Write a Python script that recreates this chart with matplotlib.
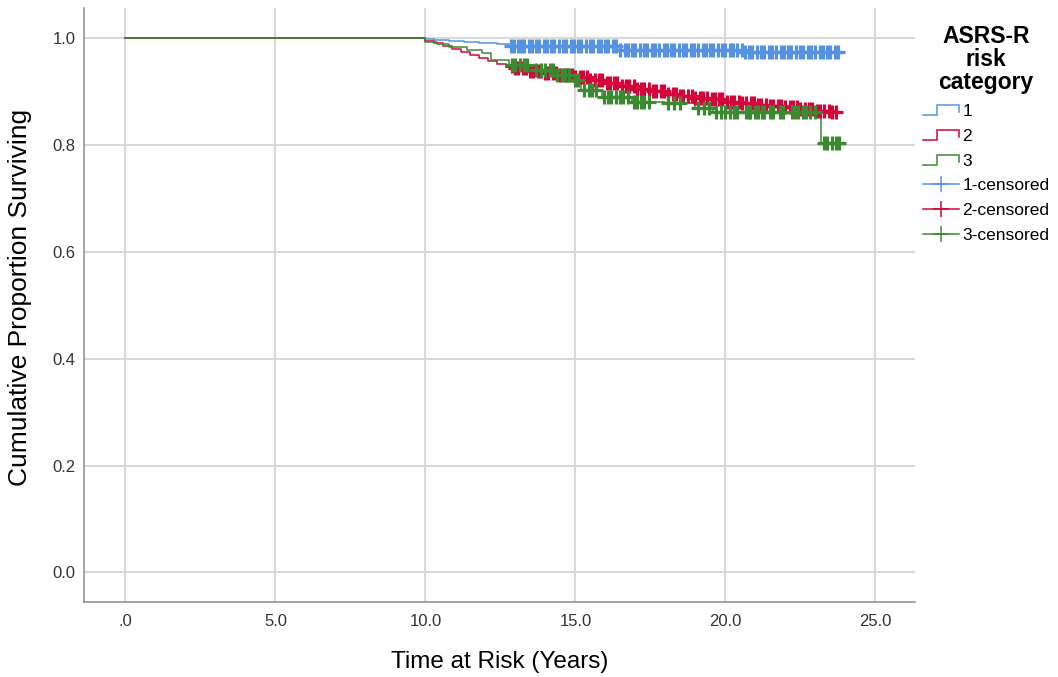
import numpy as np
import matplotlib
matplotlib.use("Agg")
import matplotlib.pyplot as plt
from matplotlib.lines import Line2D
from matplotlib.legend_handler import HandlerBase

plt.rcParams['font.family'] = ['Liberation Sans', 'DejaVu Sans']

# Kaplan-Meier step curves (time in years, cumulative proportion surviving)
t1 = [0.0, 10.0, 10.3, 10.8, 11.3, 11.8, 12.4, 12.8, 16.4, 20.6, 23.9]
s1 = [1.0, 0.998, 0.996, 0.994, 0.992, 0.990, 0.988, 0.985, 0.978, 0.974, 0.974]

t2 = [0.0, 10.0, 10.3, 10.6, 10.9, 11.2, 11.5, 11.8, 12.1, 12.4, 12.7, 13.0,
      13.5, 14.0, 14.5, 15.0, 15.5, 16.0, 16.5, 17.0, 17.5, 18.0, 18.5, 19.0,
      19.5, 20.0, 20.5, 21.0, 21.5, 22.0, 22.5, 23.0, 23.5, 23.9]
s2 = [1.0, 0.995, 0.990, 0.985, 0.980, 0.974, 0.968, 0.962, 0.957, 0.952, 0.948, 0.944,
      0.939, 0.934, 0.930, 0.926, 0.921, 0.916, 0.911, 0.905, 0.900, 0.895, 0.891, 0.888,
      0.885, 0.881, 0.878, 0.875, 0.872, 0.870, 0.867, 0.864, 0.862, 0.862]

t3 = [0.0, 10.0, 10.4, 10.8, 11.4, 11.9, 12.2, 12.8, 13.6, 14.3, 14.9, 15.2,
      15.9, 16.9, 18.0, 19.0, 19.6, 23.17, 23.9]
s3 = [1.0, 0.993, 0.988, 0.983, 0.978, 0.971, 0.958, 0.950, 0.940, 0.931, 0.922, 0.903,
      0.889, 0.881, 0.878, 0.869, 0.861, 0.804, 0.804]

# censoring times
c1 = [12.85, 12.95, 13.1, 13.2, 13.3, 13.45, 13.55, 13.7, 13.8, 13.95, 14.05, 14.2, 14.3,
      14.45, 14.6, 14.7, 14.85, 14.95, 15.1, 15.2, 15.35, 15.5, 15.6, 15.75, 15.85, 16.0,
      16.1, 16.25, 16.35, 16.5, 16.65, 16.75, 16.9, 17.0, 17.15, 17.3, 17.4, 17.55, 17.65,
      17.8, 17.95, 18.05, 18.2, 18.3, 18.45, 18.6, 18.7, 18.85, 18.95, 19.1, 19.25, 19.35,
      19.5, 19.6, 19.75, 19.9, 20.0, 20.15, 20.25, 20.4, 20.55, 20.65, 20.8, 20.9, 21.05,
      21.2, 21.3, 21.45, 21.55, 21.7, 21.85, 21.95, 22.1, 22.2, 22.35, 22.5, 22.6, 22.75,
      22.85, 23.0, 23.15, 23.25, 23.4, 23.5, 23.65, 23.75]
c2 = [12.9, 13.0, 13.1, 13.25, 13.35, 13.5, 13.6, 13.75, 13.85, 14.0, 14.1, 14.25, 14.35,
      14.5, 14.65, 14.75, 14.9, 15.0, 15.15, 15.25, 15.4, 15.5, 15.65, 15.8, 15.9, 16.05,
      16.15, 16.3, 16.4, 16.55, 16.7, 16.8, 16.95, 17.05, 17.2, 17.3, 17.45, 17.6, 17.7,
      17.85, 17.95, 18.1, 18.25, 18.35, 18.5, 18.6, 18.75, 18.9, 19.0, 19.15, 19.25, 19.4,
      19.55, 19.65, 19.8, 19.9, 20.05, 20.2, 20.3, 20.45, 20.55, 20.7, 20.85, 20.95, 21.1,
      21.2, 21.35, 21.5, 21.6, 21.75, 21.85, 22.0, 22.15, 22.25, 22.4, 22.5, 22.65, 22.8,
      22.9, 23.05, 23.15, 23.3, 23.45, 23.55, 23.7]
c3 = [12.9, 13.0, 13.15, 13.3, 13.4, 13.7, 13.85, 14.0, 14.15, 14.25, 14.4, 14.55, 14.65,
      14.8, 15.0, 15.1, 15.3, 15.45, 15.55, 15.7, 15.95, 16.1, 16.2, 16.35, 16.5, 16.6,
      16.75, 16.95, 17.05, 17.2, 17.3, 17.45, 18.1, 18.3, 18.5, 19.1, 19.3, 19.45, 19.7,
      19.85, 20.0, 20.15, 20.3, 20.4, 20.67, 20.77, 20.83, 21.0, 21.1, 21.23, 21.27, 21.5,
      21.57, 21.83, 21.93, 22.23, 22.33, 22.43, 22.57, 22.67, 22.83, 23.0, 23.28, 23.4,
      23.55, 23.68, 23.8]

groups = ['1', '2', '3']
colors = ['#5592e2', '#d4053b', '#3b8a31']

xticks = [0, 5, 10, 15, 20, 25]
xticklabels = ['.0', '5.0', '10.0', '15.0', '20.0', '25.0']
yticks = [0.0, 0.2, 0.4, 0.6, 0.8, 1.0]
yticklabels = ['0.0', '0.2', '0.4', '0.6', '0.8', '1.0']


def surv_at(times, surv, c):
    idx = np.searchsorted(np.array(times), np.array(c), side='right') - 1
    return np.array(surv)[idx]


class StepHandler(HandlerBase):
    def create_artists(self, legend, orig_handle, xdescent, ydescent,
                       width, height, fontsize, trans):
        x0, y0 = -xdescent, -ydescent
        xs = [x0, x0 + 0.4 * width, x0 + 0.4 * width, x0 + width, x0 + width]
        ys = [y0 + 0.05 * height, y0 + 0.05 * height, y0 + 0.9 * height,
              y0 + 0.9 * height, y0 + 0.3 * height]
        ln = Line2D(xs, ys, color=orig_handle.get_color(), lw=1.1,
                    solid_joinstyle='miter', transform=trans)
        return [ln]


fig = plt.figure(figsize=(10.58, 6.77), dpi=100)
ax = fig.add_axes([84 / 1058, 75 / 677, 831 / 1058, 594 / 677])

curves = [(t1, s1, c1), (t2, s2, c2), (t3, s3, c3)]
for (t, s, c), col in zip(curves, colors):
    ax.step(t, s, where='post', color=col, lw=1.1, zorder=3)
for (t, s, c), col in zip(curves, colors):
    ax.plot(c, surv_at(t, s, c), '+', color=col, ms=9.5, mew=2.3, zorder=4)

ax.set_xlim(-1.383, 26.32)
ax.set_ylim(-0.0552, 1.056)
ax.set_xticks(xticks)
ax.set_xticklabels(xticklabels)
ax.set_yticks(yticks)
ax.set_yticklabels(yticklabels)
ax.tick_params(length=0, labelsize=12, labelcolor='#333333')
ax.tick_params(axis='x', pad=9)
ax.tick_params(axis='y', pad=6)
ax.grid(True, color='#d8d8d8', lw=1.5)
ax.set_axisbelow(True)
for sp in ['top', 'right']:
    ax.spines[sp].set_visible(False)
for sp in ['left', 'bottom']:
    ax.spines[sp].set_color('#8a8a8a')
    ax.spines[sp].set_linewidth(1.1)

ax.set_xlabel('Time at Risk (Years)', fontsize=17.5)
ax.set_ylabel('Cumulative Proportion Surviving', fontsize=19)
ax.xaxis.set_label_coords(0.5, -0.0825)
ax.yaxis.set_label_coords(-0.0626, 0.5126)

handles = [Line2D([], [], color=c) for c in colors]
handles += [Line2D([], [], color=c, marker='+', ms=12, mew=1.1, lw=1.1) for c in colors]
labels = groups + [g + '-censored' for g in groups]
leg = fig.legend(handles, labels, loc='upper left',
                 bbox_to_anchor=(914 / 1058, 1 - 16 / 677),
                 frameon=False, fontsize=12.5, borderpad=0, handlelength=2.1,
                 handletextpad=0.2, labelspacing=0.55,
                 title='ASRS-R\nrisk\ncategory',
                 title_fontproperties={'weight': 'bold', 'size': 16.5},
                 handler_map={h: StepHandler() for h in handles[:3]})
leg.get_title().set_linespacing(1.02)
leg.get_title().set_multialignment('center')

fig.savefig('out.png', dpi=100)
